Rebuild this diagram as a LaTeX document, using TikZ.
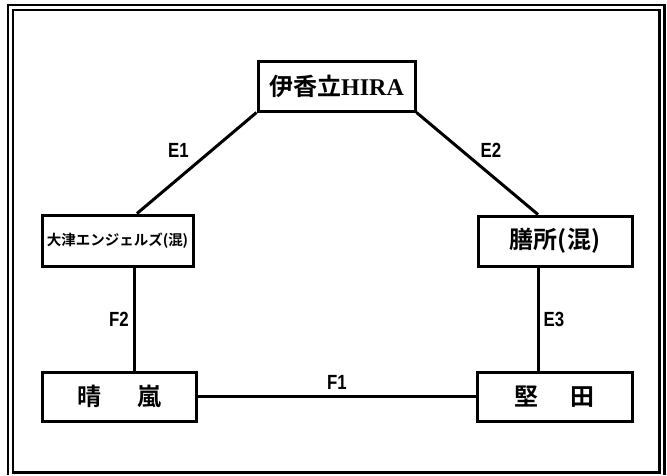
\documentclass[tikz,border=0pt]{standalone}
\usepackage{fontspec}
\newfontfamily\jpfont{Noto Sans CJK JP}[BoldFont={* Bold}]
\newfontfamily\lserif{Liberation Serif}
\newfontfamily\lsans{Liberation Sans}
\tikzset{
  teambox/.style={draw, line width=3pt, fill=white, inner sep=0pt, font=\jpfont\bfseries\fontsize{24pt}{28pt}\selectfont},
  link/.style={line width=3pt},
  frameline/.style={line width=2.6pt},
  edgelabel/.style={inner sep=0pt, font=\lsans\bfseries\fontsize{20.5pt}{22pt}\selectfont, xscale=0.82}
}
\begin{document}
\begin{tikzpicture}[x=1pt,y=-1pt]
\useasboundingbox (0,0) rectangle (667,475);
% double frame
\draw[frameline] (8,475) -- (8,5) -- (664.5,5) -- (664.5,475);
\draw[frameline] (13,10) rectangle (659.5,472.5);
% team boxes
\node[teambox, minimum width=157pt, minimum height=50pt] (hira) at (336.5,86) {伊香立{\lserif\bfseries HIRA}};
\node[teambox, minimum width=151pt, minimum height=51pt, font=\jpfont\bfseries\fontsize{14.5pt}{17pt}\selectfont] (otsu) at (117.5,240.5) {大津エンジェルズ(混)};
\node[teambox, minimum width=154pt, minimum height=50pt] (zeze) at (555,241) {膳所(混)};
\node[teambox, minimum width=154pt, minimum height=49pt] (seiran) at (119,396.5) {晴\hspace{36pt}嵐};
\node[teambox, minimum width=155pt, minimum height=49pt] (katata) at (554.5,396.5) {堅\hspace{32pt}田};
% connectors
\draw[link] (hira.south west) -- ([xshift=19.5pt]otsu.north);
\draw[link] (hira.south east) -- ([xshift=-17pt]zeze.north);
\draw[link] ([xshift=16.5pt]otsu.south) -- ([xshift=16.5pt]otsu.south |- seiran.north);
\draw[link] ([xshift=-17pt]zeze.south) -- ([xshift=-17pt]zeze.south |- katata.north);
\draw[link] (seiran.east) -- (katata.west);
% labels
\node[edgelabel] (le1) at (178.5,150.5) {E1};
\node[edgelabel] (le2) at (491,150.5) {E2};
\node[edgelabel] (lf2) at (119,319.5) {F2};
\node[edgelabel] (le3) at (554,319.5) {E3};
\node[edgelabel] (lf1) at (337,382) {F1};
\end{tikzpicture}
\end{document}
